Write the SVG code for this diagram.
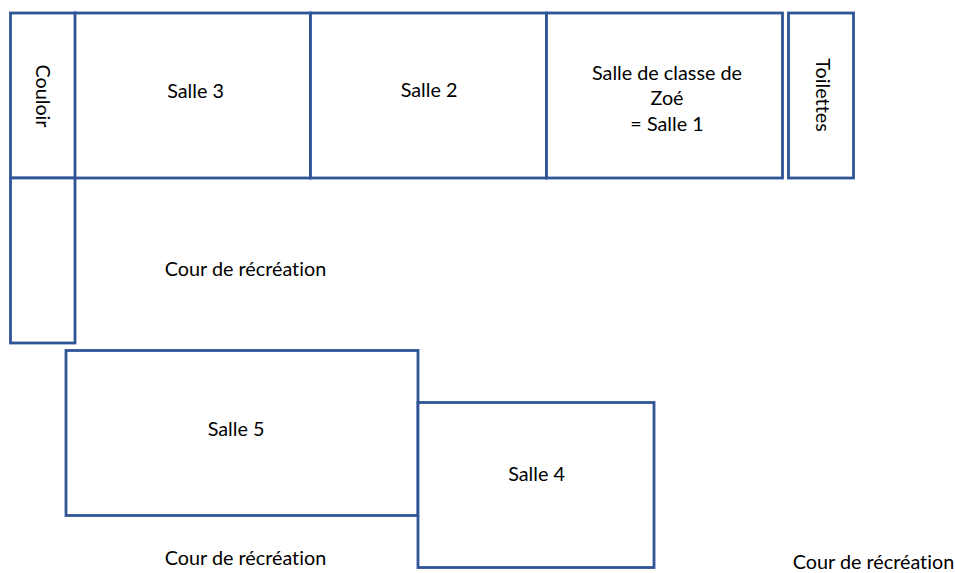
<svg xmlns="http://www.w3.org/2000/svg" width="955" height="573" viewBox="0 0 955 573">
<style>
.r{fill:#fff;stroke:#2f5597;stroke-width:2.800}
text{font-family:Lato,"Open Sans","Liberation Sans",sans-serif;font-size:19.800px;font-variant-ligatures:none;fill:#000;text-anchor:middle}
</style>
<rect width="955" height="573" fill="#fff"/>
<g id="couloir1"><rect class="r" x="10.500" y="13" width="65" height="165"/><text transform="translate(36 96) rotate(90)">Couloir</text></g>
<g id="salle3"><rect class="r" x="75" y="13" width="235.500" height="165"/><text x="195.500" y="98">Salle 3</text></g>
<g id="salle2"><rect class="r" x="310.500" y="13" width="236" height="165"/><text x="429" y="97">Salle 2</text></g>
<g id="salle1"><rect class="r" x="546.500" y="13" width="236" height="165"/><text x="667" y="80">Salle de classe de</text><text x="667" y="105">Zoé</text><text x="667" y="131">= Salle 1</text></g>
<g id="toilettes"><rect class="r" x="788.500" y="13" width="65" height="165"/><text transform="translate(816 95) rotate(90)">Toilettes</text></g>
<g id="couloir2"><rect class="r" x="10.500" y="178" width="64.500" height="165"/></g>
<g id="cour1"><text x="245.500" y="276">Cour de récréation</text></g>
<g id="salle5"><rect class="r" x="66" y="350.500" width="352" height="165"/><text x="236" y="436">Salle 5</text></g>
<g id="salle4"><rect class="r" x="418" y="402.500" width="236" height="165"/><text x="536.500" y="481">Salle 4</text></g>
<g id="cour2"><text x="245.500" y="565">Cour de récréation</text></g>
<g id="cour3"><text x="873.500" y="569">Cour de récréation</text></g>
</svg>
